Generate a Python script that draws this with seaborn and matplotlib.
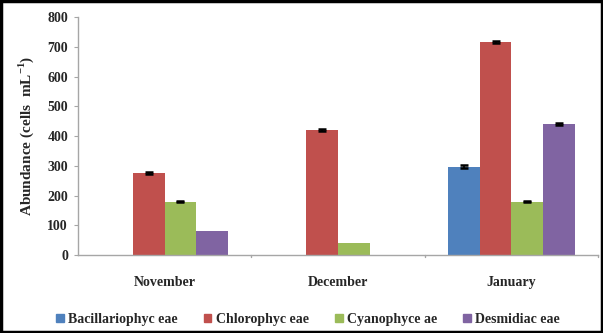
import seaborn as sns
import matplotlib.pyplot as plt
import pandas as pd
from matplotlib.patches import Rectangle

# data
months = ['November', 'December', 'January']
groups = ['Bacillariophyc eae', 'Chlorophyc eae', 'Cyanophyce ae', 'Desmidiac eae']
bacillariophyceae = [0, 0, 297]
chlorophyceae = [276, 420, 717]
cyanophyceae = [180, 40, 180]
desmidiaceae = [80, 0, 440]
err_bac = [0, 0, 5]
err_chl = [4, 4, 4]
err_cya = [3, 0, 3]
err_des = [0, 0, 3]
colors = ['#4f81bd', '#c0504d', '#9bbb59', '#8064a2']

rows = []
for g, vals, errs in zip(groups, [bacillariophyceae, chlorophyceae, cyanophyceae, desmidiaceae],
                         [err_bac, err_chl, err_cya, err_des]):
    for m, v, e in zip(months, vals, errs):
        rows.append({'Month': m, 'Group': g, 'Value': v, 'Err': e})
df = pd.DataFrame(rows)

sns.set_style('white')
plt.rcParams['font.family'] = 'serif'
plt.rcParams['font.serif'] = ['Liberation Serif']
plt.rcParams['mathtext.fontset'] = 'custom'
plt.rcParams['mathtext.rm'] = 'Liberation Serif'
plt.rcParams['mathtext.bf'] = 'Liberation Serif:bold'

fig = plt.figure(figsize=(6.03, 3.33), dpi=100)
ax = fig.add_axes([0.129, 0.234, 0.863, 0.714])
sns.barplot(data=df, x='Month', y='Value', hue='Group', order=months, hue_order=groups,
            palette=colors, width=0.73, errorbar=None, saturation=1, ax=ax,
            edgecolor='none', legend=False)

# error bars at the bar centres
for i, g in enumerate(groups):
    sub = df[df['Group'] == g].set_index('Month').loc[months]
    cont = ax.containers[i]
    for bar, v, e in zip(cont, sub['Value'], sub['Err']):
        if v > 0 and e > 0:
            ax.errorbar(bar.get_x() + bar.get_width() / 2, v, yerr=e, fmt='none',
                        ecolor='black', elinewidth=1.2, capsize=3, capthick=1.8)

ax.set_ylim(0, 800)
ax.set_xlim(-0.5, 2.5)
ax.set_yticks(range(0, 801, 100))
ax.set_ylabel('Abundance (cells  mL$^{\\mathbf{-1}}$)', fontsize=11, fontweight='bold', labelpad=8)
ax.set_xlabel('')
for s in ['top', 'right']:
    ax.spines[s].set_visible(False)
for s in ['left', 'bottom']:
    ax.spines[s].set_color('#a6a6a6')
    ax.spines[s].set_linewidth(1)
ax.tick_params(axis='y', which='both', left=True, length=3, color='#a6a6a6',
               labelsize=10, pad=4)
ax.tick_params(axis='x', length=0, labelsize=10, pad=15)
for lab in ax.get_yticklabels() + ax.get_xticklabels():
    lab.set_fontweight('bold')
# category boundary ticks on x axis
for xb in [0.5, 1.5, 2.5]:
    ax.plot([xb, xb], [0, -8], color='#a6a6a6', lw=1, clip_on=False)

handles = [Rectangle((0, 0), 1, 1, color=c) for c in colors]
fig.legend(handles, groups, loc='center left', bbox_to_anchor=(0.072, 0.04), ncol=4,
           frameon=False, handlelength=0.55, handleheight=0.55,
           handletextpad=0.3, columnspacing=1.9,
           prop={'size': 10, 'weight': 'bold'})

fig.patches.append(Rectangle((0.002, 0.003), 0.996, 0.994, transform=fig.transFigure,
                             fill=False, edgecolor='black', lw=2.5))
fig.savefig('out.png', dpi=100)
